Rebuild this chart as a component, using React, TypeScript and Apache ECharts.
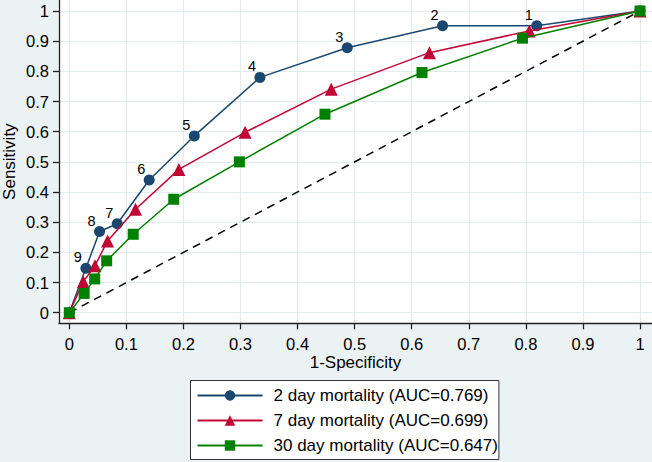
import React, { useEffect, useRef } from "react";
import * as echarts from "echarts";

const xTicks = [0, 0.1, 0.2, 0.3, 0.4, 0.5, 0.6, 0.7, 0.8, 0.9, 1];
const yTicks = [0, 0.1, 0.2, 0.3, 0.4, 0.5, 0.6, 0.7, 0.8, 0.9, 1];

const seriesNames = [
  "2 day mortality (AUC=0.769)",
  "7 day mortality (AUC=0.699)",
  "30 day mortality (AUC=0.647)",
];

const day2X = [0, 0.029, 0.053, 0.084, 0.14, 0.219, 0.334, 0.487, 0.654, 0.819, 1];
const day2Y = [0, 0.147, 0.269, 0.295, 0.44, 0.586, 0.78, 0.878, 0.951, 0.951, 1];
const day2Labels = ["", "9", "8", "7", "6", "5", "4", "3", "2", "1", ""];

const day7X = [0, 0.0245, 0.045, 0.067, 0.116, 0.192, 0.308, 0.459, 0.631, 0.806, 1];
const day7Y = [0, 0.103, 0.156, 0.238, 0.343, 0.475, 0.598, 0.741, 0.862, 0.934, 1];

const day30X = [0, 0.026, 0.0445, 0.0655, 0.112, 0.183, 0.298, 0.448, 0.618, 0.794, 1];
const day30Y = [0, 0.064, 0.112, 0.172, 0.26, 0.376, 0.5, 0.658, 0.796, 0.91, 1];

const refLineX = [0, 1];
const refLineY = [0, 1];

const FONT = "Liberation Sans, Arial, sans-serif";

function pairs(xs: number[], ys: number[]) {
  return xs.map((x, i) => [x, ys[i]]);
}

export default function App() {
  const ref = useRef<HTMLDivElement>(null);
  useEffect(() => {
    document.body.style.margin = "0";
    if (!ref.current) return;
    const chart = echarts.init(ref.current, undefined, { renderer: "svg" });
    const day2Data = day2X.map((x, i) => ({
      value: [x, day2Y[i]],
      label: { show: day2Labels[i] !== "", formatter: day2Labels[i] },
    }));
    chart.setOption({
      animation: false,
      backgroundColor: "#eaf2f3",
      textStyle: { fontFamily: FONT },
      grid: {
        left: 59,
        right: 0,
        top: 0,
        bottom: 138.7,
        show: true,
        backgroundColor: "#ffffff",
        borderWidth: 0,
        containLabel: false,
        outerBoundsMode: "none",
      },
      xAxis: {
        type: "value",
        min: -0.01805,
        max: 1.021,
        name: "1-Specificity",
        nameLocation: "middle",
        nameGap: 31,
        nameMoveOverlap: false,
        nameTextStyle: { fontSize: 17, color: "#000", fontFamily: FONT },
        axisLine: { show: true, onZero: false, lineStyle: { color: "#222", width: 1.3 } },
        axisTick: { show: true, length: 6, customValues: xTicks, lineStyle: { color: "#222", width: 1.3 } },
        axisLabel: {
          customValues: xTicks,
          fontSize: 16.5,
          color: "#000",
          margin: 12,
          fontFamily: FONT,
          formatter: (v: number) => String(Math.round(v * 10) / 10),
        },
        splitLine: { show: true, lineStyle: { color: "#e2ebee", width: 1.2 } },
      },
      yAxis: {
        type: "value",
        min: -0.0351,
        max: 1.0365,
        name: "Sensitivity",
        nameLocation: "middle",
        nameGap: 41,
        nameMoveOverlap: false,
        nameRotate: 90,
        nameTextStyle: { fontSize: 17, color: "#000", fontFamily: FONT },
        axisLine: { show: true, onZero: false, lineStyle: { color: "#222", width: 1.3 } },
        axisTick: { show: true, length: 6, customValues: yTicks, lineStyle: { color: "#222", width: 1.3 } },
        axisLabel: {
          customValues: yTicks,
          fontSize: 16.5,
          color: "#000",
          margin: 10,
          fontFamily: FONT,
          formatter: (v: number) => String(Math.round(v * 10) / 10),
        },
        splitLine: { show: true, lineStyle: { color: "#e2ebee", width: 1.2 } },
      },
      legend: {
        data: seriesNames,
        orient: "vertical",
        left: 190.5,
        top: 380.5,
        height: 80,
        padding: [6, 1, 5, 6],
        itemGap: 7,
        itemWidth: 65,
        itemHeight: 13,
        backgroundColor: "#ffffff",
        borderColor: "#333",
        borderWidth: 1,
        borderRadius: 0,
        textStyle: { fontSize: 17, lineHeight: 18, color: "#000", fontFamily: FONT, padding: [0, 0, 0, 6] },
      },
      series: [
        {
          type: "line",
          name: "reference",
          data: pairs(refLineX, refLineY),
          showSymbol: false,
          symbol: "none",
          silent: true,
          clip: false,
          lineStyle: { color: "#000", width: 1.5, type: [8, 6] },
          z: 1,
        },
        {
          type: "line",
          name: seriesNames[0],
          data: day2Data,
          symbol: "circle",
          symbolSize: 11,
          clip: false,
          itemStyle: { color: "#1a476f" },
          lineStyle: { color: "#1a476f", width: 1.5 },
          label: {
            position: "inside",
            offset: [-8, -11],
            fontSize: 14.5,
            color: "#000",
            fontFamily: FONT,
          },
          z: 2,
        },
        {
          type: "line",
          name: seriesNames[1],
          data: pairs(day7X, day7Y),
          symbol: "triangle",
          symbolSize: 13,
          clip: false,
          itemStyle: { color: "#c10534" },
          lineStyle: { color: "#c10534", width: 1.5 },
          z: 3,
        },
        {
          type: "line",
          name: seriesNames[2],
          data: pairs(day30X, day30Y),
          symbol: "rect",
          symbolSize: 11,
          clip: false,
          itemStyle: { color: "#008000" },
          lineStyle: { color: "#008000", width: 1.5 },
          z: 4,
        },
      ],
    });
    return () => chart.dispose();
  }, []);
  return <div ref={ref} style={{ width: 652, height: 462 }} />;
}
